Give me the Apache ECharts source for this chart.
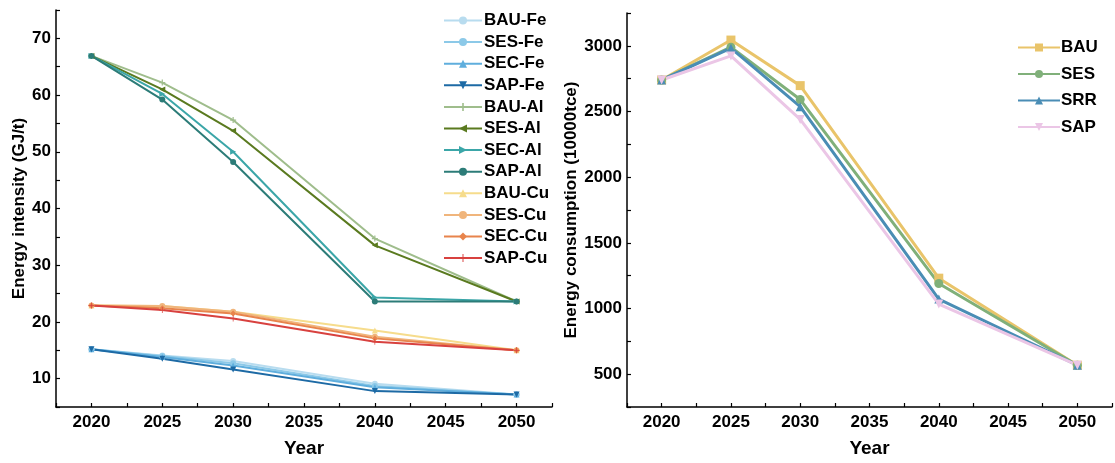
<!DOCTYPE html>
<html><head><meta charset="utf-8">
<script src="https://cdn.jsdelivr.net/npm/echarts@6/dist/echarts.min.js"></script>
<style>html,body{margin:0;padding:0;background:#fff}#c{width:1115px;height:463px}</style>
</head><body><div id="c"></div>
<script>
const years = [2020, 2025, 2030, 2040, 2050];
const xTickLabels = ['2020','2025','2030','2035','2040','2045','2050'];
const leftTickLabels = ['10','20','30','40','50','60','70'];
const rightTickLabels = ['500','1000','1500','2000','2500','3000'];

const BAU_Fe = [15.2, 14.1, 13.1, 9.1, 7.2];
const SES_Fe = [15.2, 14.0, 12.7, 8.7, 7.2];
const SEC_Fe = [15.2, 13.8, 12.3, 8.5, 7.2];
const SAP_Fe = [15.2, 13.5, 11.6, 7.8, 7.2];
const BAU_Al = [66.9, 62.2, 55.6, 34.7, 23.6];
const SES_Al = [66.9, 61.0, 53.7, 33.5, 23.6];
const SEC_Al = [66.9, 60.2, 50.0, 24.3, 23.6];
const SAP_Al = [66.9, 59.2, 48.2, 23.6, 23.6];
const BAU_Cu = [22.9, 22.8, 21.8, 18.5, 15.0];
const SES_Cu = [22.9, 22.8, 21.8, 17.4, 15.0];
const SEC_Cu = [22.9, 22.4, 21.5, 17.1, 15.0];
const SAP_Cu = [22.9, 22.1, 20.6, 16.5, 15.0];

const BAU = [2740, 3044, 2697, 1231, 568];
const SES = [2740, 2990, 2591, 1190, 568];
const SRR = [2740, 2982, 2537, 1072, 568];
const SAP = [2740, 2923, 2440, 1034, 568];

const PLUS = 'path://M4,0H6V4H10V6H6V10H4V6H0V4H4Z';
const THINPLUS = 'path://M4.4,0H5.6V4.4H10V5.6H5.6V10H4.4V5.6H0V4.4H4.4Z';

const leftSeries = [
  ['BAU-Fe', BAU_Fe, '#b8dcef', 'circle', 0],
  ['SES-Fe', SES_Fe, '#8cc9e8', 'circle', 0],
  ['SEC-Fe', SEC_Fe, '#5faedd', 'triangle', 0],
  ['SAP-Fe', SAP_Fe, '#1d6aa5', 'triangle', 180],
  ['BAU-Al', BAU_Al, '#9fbd8c', PLUS, 0],
  ['SES-Al', SES_Al, '#5a7a1f', 'triangle', 90],
  ['SEC-Al', SEC_Al, '#3ba6a8', 'triangle', -90],
  ['SAP-Al', SAP_Al, '#2c7c78', 'circle', 0],
  ['BAU-Cu', BAU_Cu, '#f6dc8c', 'triangle', 0],
  ['SES-Cu', SES_Cu, '#f0b57c', 'circle', 0],
  ['SEC-Cu', SEC_Cu, '#e8844c', 'diamond', 0],
  ['SAP-Cu', SAP_Cu, '#d8413f', THINPLUS, 0]
];
const rightSeries = [
  ['BAU', BAU, '#e9c46a', 'rect', 0],
  ['SES', SES, '#80b07a', 'circle', 0],
  ['SRR', SRR, '#4a8db5', 'triangle', 0],
  ['SAP', SAP, '#ebc6e6', 'triangle', 180]
];

const FONT = 'Liberation Sans, Arial, sans-serif';
const isIn = (v, labels) => labels.indexOf(String(Math.round(v))) >= 0 && Math.abs(v - Math.round(v)) < 1e-6;

function xAxis(gi) {
  return {
    type: 'value', gridIndex: gi, min: 2017.5, max: 2052.5, interval: 2.5,
    name: 'Year', nameLocation: 'middle', nameGap: 32,
    nameTextStyle: {fontFamily: FONT, fontSize: 19, fontWeight: 'bold', color: '#000'},
    axisLine: {show: true, onZero: false, lineStyle: {color: '#000', width: 1.5}},
    axisTick: {show: true, inside: true, length: 4, lineStyle: {color: '#000', width: 1.2}},
    axisLabel: {margin: 7, fontFamily: FONT, fontSize: 17, fontWeight: 'bold', color: '#000',
      formatter: v => isIn(v, xTickLabels) ? String(Math.round(v)) : ''},
    splitLine: {show: false}
  };
}
function yAxis(gi, min, max, interval, labels, name, gap) {
  return {
    type: 'value', gridIndex: gi, min, max, interval,
    name, nameLocation: 'middle', nameRotate: 90, nameGap: gap,
    nameTextStyle: {fontFamily: FONT, fontSize: 17, fontWeight: 'bold', color: '#000'},
    axisLine: {show: true, onZero: false, lineStyle: {color: '#000', width: 1.5}},
    axisTick: {show: true, inside: true, length: 4, lineStyle: {color: '#000', width: 1.2}},
    axisLabel: {margin: 5, fontFamily: FONT, fontSize: 17, fontWeight: 'bold', color: '#000',
      formatter: v => isIn(v, labels) ? String(Math.round(v)) : ''},
    splitLine: {show: false}
  };
}
function mk(list, gi, width, size) {
  return list.map(([name, vals, color, sym, rot]) => ({
    name, type: 'line', xAxisIndex: gi, yAxisIndex: gi,
    data: vals.map((v, i) => [years[i], v]),
    symbol: sym, symbolRotate: rot, symbolSize: size, symbolKeepAspect: true, showSymbol: true,
    lineStyle: {color, width}, itemStyle: {color}, color,
    animation: false, z: 2
  }));
}

const chart = echarts.init(document.getElementById('c'), null, {renderer: 'canvas'});
chart.setOption({
  backgroundColor: '#fff',
  animation: false,
  grid: [
    {left: 56, top: 10, width: 496, height: 400},
    {left: 627, top: 13, width: 496, height: 398}
  ],
  xAxis: [xAxis(0), xAxis(1)],
  yAxis: [
    yAxis(0, 5, 75, 5, leftTickLabels, 'Energy intensity (GJ/t)', 28),
    yAxis(1, 250, 3250, 250, rightTickLabels, 'Energy consumption (10000tce)', 44)
  ],
  legend: [
    {data: leftSeries.map(s => s[0]), orient: 'vertical', left: 438, top: 7,
     itemWidth: 38, itemHeight: 10, itemGap: 4.6,
     textStyle: {fontFamily: FONT, fontSize: 17, fontWeight: 'bold', color: '#000', padding: [0,0,0,-3]}},
    {data: rightSeries.map(s => s[0]), orient: 'vertical', left: 1012, top: 34,
     itemWidth: 42, itemHeight: 10, itemGap: 9.5,
     textStyle: {fontFamily: FONT, fontSize: 17, fontWeight: 'bold', color: '#000', padding: [0,0,0,-4]}}
  ],
  series: [...mk(leftSeries, 0, 2, 6), ...mk(rightSeries, 1, 3, 9)]
});
</script></body></html>
